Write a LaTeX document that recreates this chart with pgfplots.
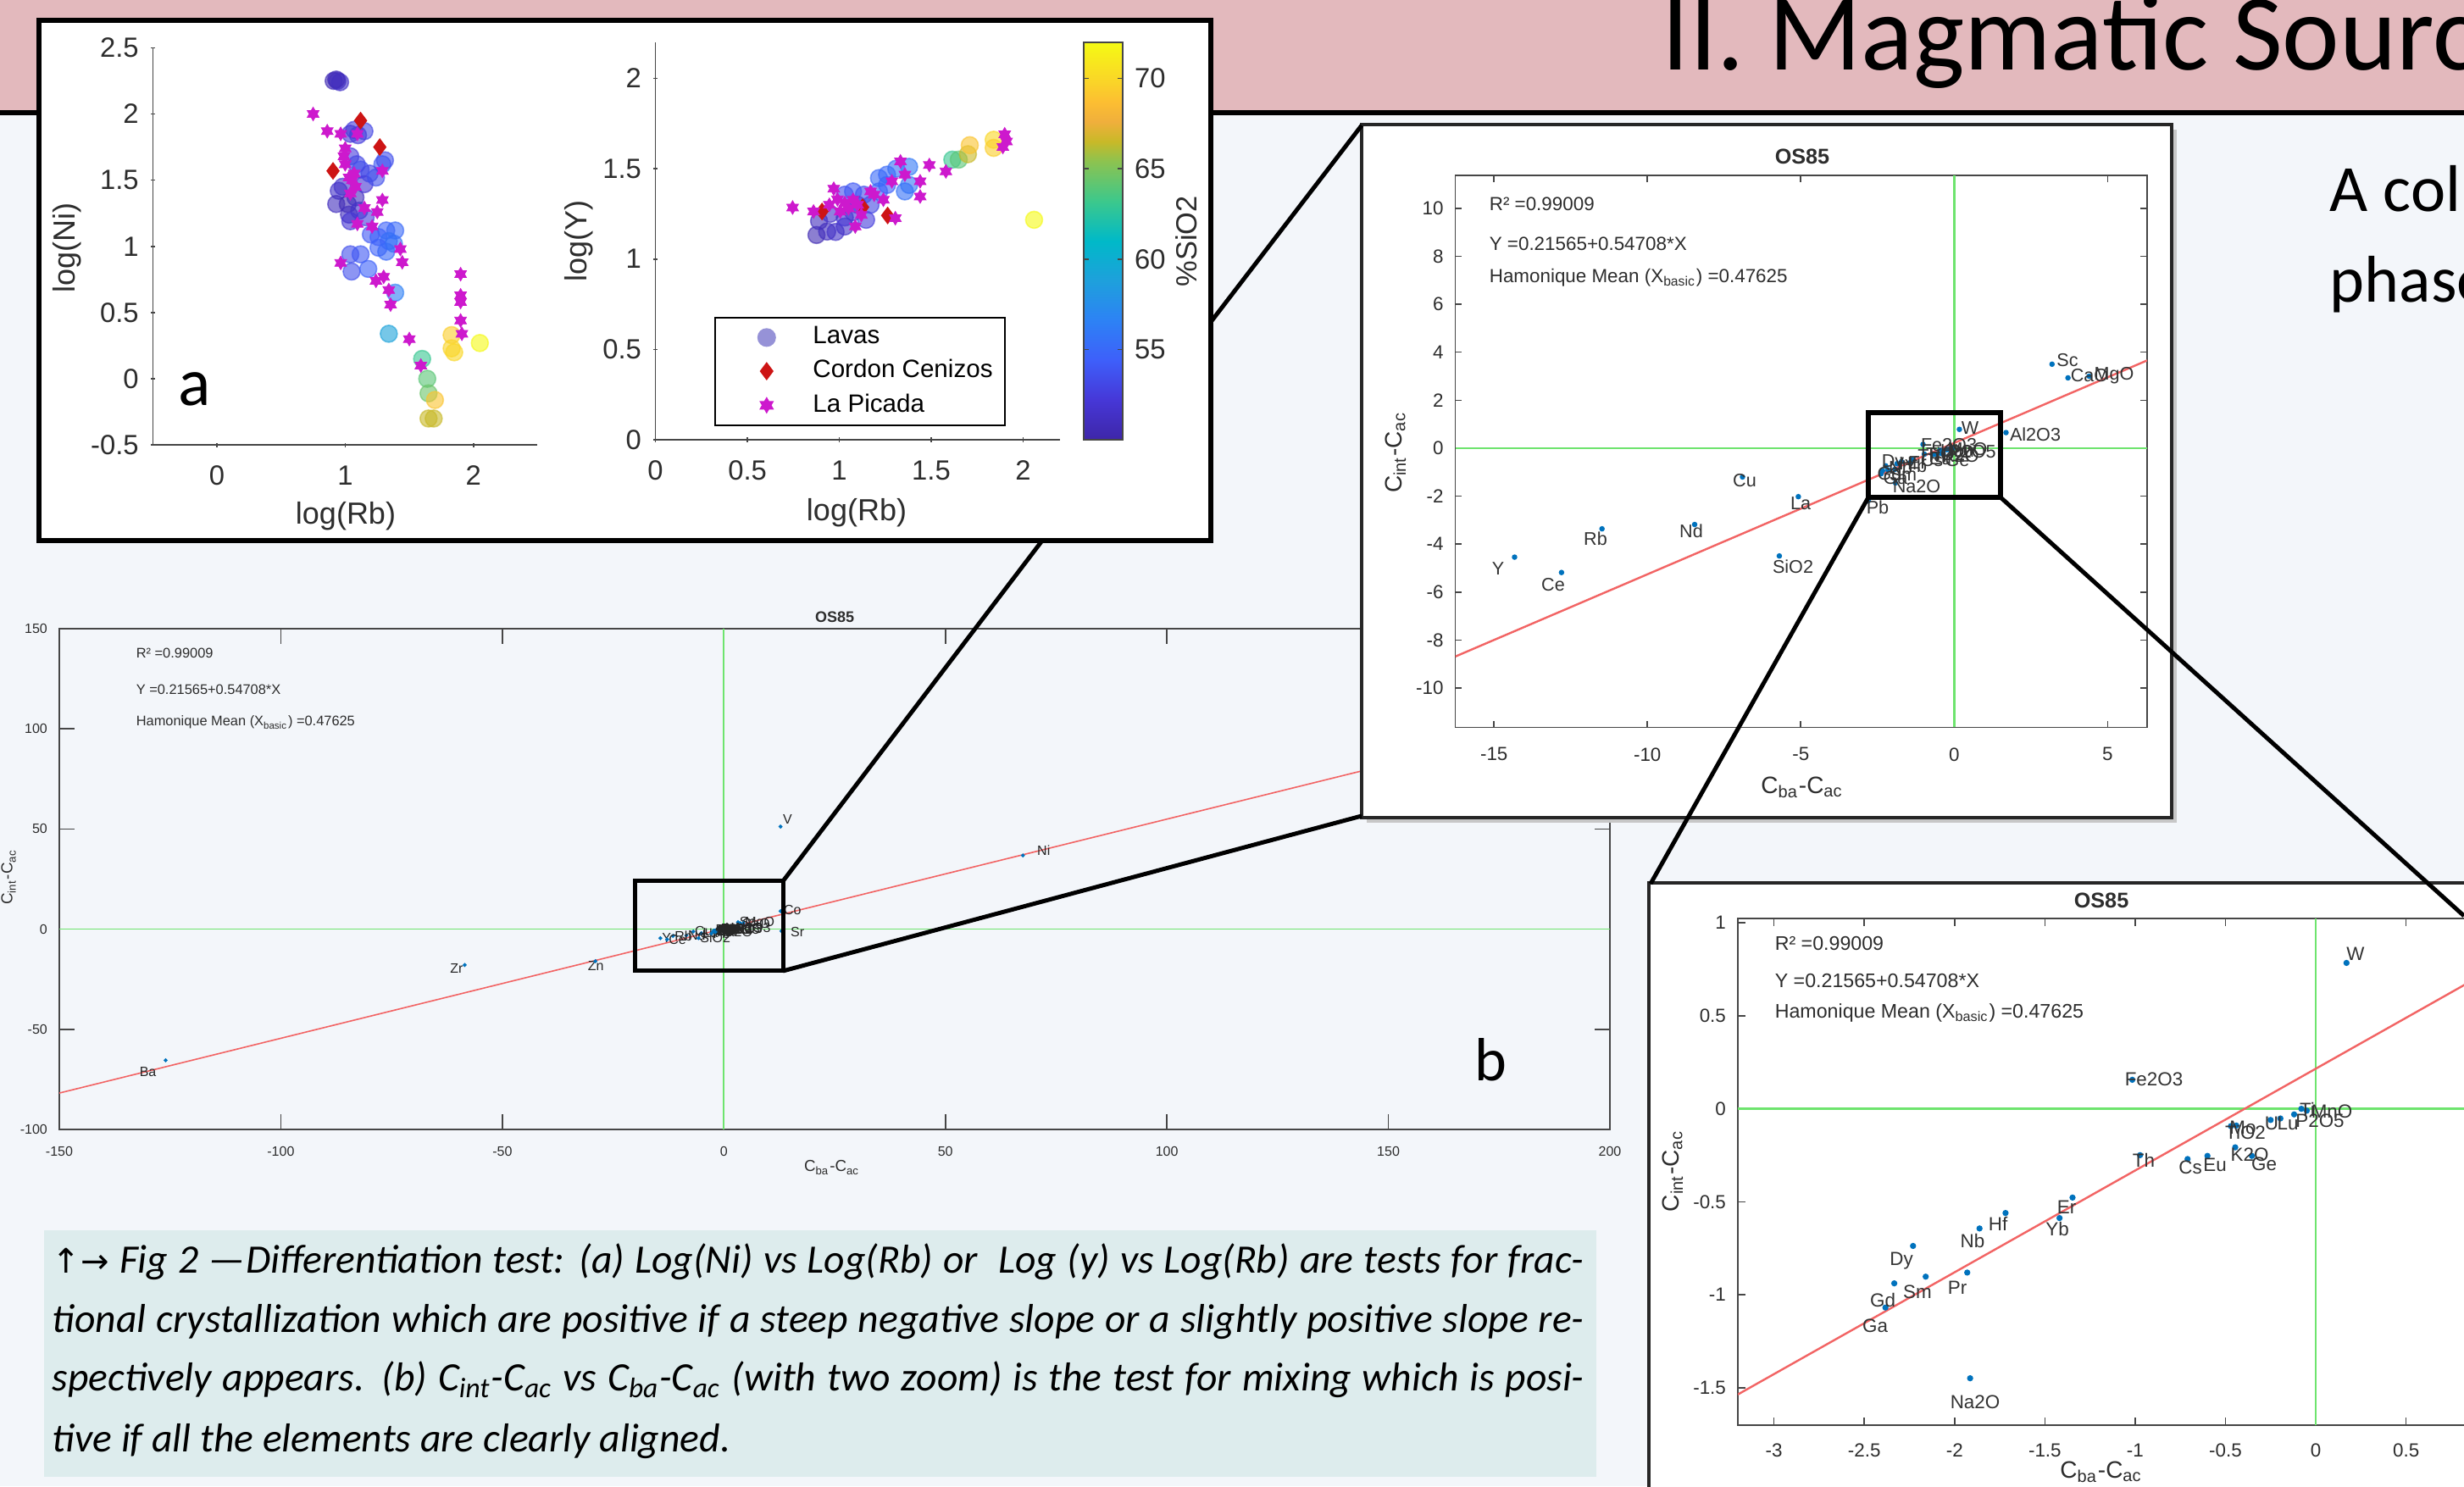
\documentclass[border=0pt]{standalone}
\usepackage{pgfplots}
\pgfplotsset{compat=1.18}
\usepackage{pgfplotstable}
\usepackage{fontspec}
\setmainfont{Carlito}
\newfontfamily\hv{Liberation Sans}
\newfontfamily\dv{DejaVu Sans}
\newcommand\fs[1]{\fontsize{#1}{#1}\selectfont}

\definecolor{pagebg}{RGB}{243,246,250}
\definecolor{hdr}{RGB}{227,185,189}
\definecolor{capbg}{RGB}{221,236,237}
\definecolor{mblue}{RGB}{0,114,189}
\definecolor{mgreen}{RGB}{110,228,110}
\definecolor{mred}{RGB}{242,100,100}
\definecolor{axgray}{RGB}{70,70,70}
\definecolor{txtgray}{RGB}{45,45,45}
\definecolor{lapic}{RGB}{205,25,205}
\definecolor{cordon}{RGB}{205,20,20}
\definecolor{lav}{RGB}{150,146,215}

\pgfdeclareplotmark{hexagram}{%
  \pgfpathmoveto{\pgfpointpolar{90}{\pgfplotmarksize}}%
  \pgfpathlineto{\pgfpointpolar{210}{\pgfplotmarksize}}%
  \pgfpathlineto{\pgfpointpolar{330}{\pgfplotmarksize}}%
  \pgfpathclose
  \pgfpathmoveto{\pgfpointpolar{270}{\pgfplotmarksize}}%
  \pgfpathlineto{\pgfpointpolar{30}{\pgfplotmarksize}}%
  \pgfpathlineto{\pgfpointpolar{150}{\pgfplotmarksize}}%
  \pgfpathclose
  \pgfusepathqfillstroke}

\pgfplotsset{
  /pgf/number format/assume math mode=true,
  colormap={parula}{rgb255(0cm)=(62,38,168) rgb255(1cm)=(70,55,215) rgb255(2cm)=(62,95,250) rgb255(3cm)=(45,130,245) rgb255(4cm)=(30,160,220) rgb255(5cm)=(0,185,200) rgb255(6cm)=(60,200,140) rgb255(7cm)=(140,195,80) rgb255(7.5cm)=(200,185,40) rgb255(8cm)=(240,175,60) rgb255(8.5cm)=(252,190,50) rgb255(9cm)=(250,212,40) rgb255(10cm)=(245,250,20)},
  mat/.style={scale only axis, anchor=south west,
    axis line style={draw=axgray, line width=0.4pt},
    tick style={draw=axgray, line width=0.4pt},
    tick align=inside, tick label style={text=txtgray},
    scaled ticks=false, /pgf/number format/fixed},
}
\tikzset{px/.style={x=0.25pt,y=-0.25pt,shift={(0pt,438.5pt)}},
  lb/.style={font=\hv\fs{#1}, text=txtgray, inner sep=0pt}}

% ---------- data ----------
\pgfplotstableread{
x y s
0.91 2.25 50.5
0.94 2.25 51
0.96 2.24 51.5
0.93 2.26 50.8
1.07 1.88 52.5
1.15 1.87 53
1.04 1.85 52
1.10 1.84 52.5
1.29 1.62 54
1.31 1.65 53.5
1.04 1.68 52.5
1.09 1.62 53
1.12 1.58 53.5
0.95 1.42 51.5
0.93 1.32 51
1.02 1.32 50.5
1.08 1.37 51
1.15 1.47 52
1.19 1.55 53
1.24 1.52 53.5
0.98 1.45 51.5
1.03 1.24 51
1.11 1.27 51.5
1.04 1.19 52
1.16 1.22 52.5
1.20 1.09 54
1.26 1.07 54.5
1.32 1.12 54.5
1.39 1.12 55
1.34 1.04 55.5
1.26 0.99 54.5
1.32 0.96 55
1.38 1.02 55.5
1.04 0.94 53.5
1.12 0.94 54
1.05 0.81 53.5
1.18 0.83 54.5
1.39 0.65 56.5
1.34 0.34 59
1.60 0.15 63
1.64 0.00 64
1.65 -0.11 64.5
1.70 -0.16 69
1.65 -0.30 66.5
1.69 -0.30 66.5
1.83 0.33 69.5
1.83 0.23 69.8
1.85 0.20 70
2.05 0.27 72
}\lavNi
\pgfplotstableread{
x y s
0.876 1.133 50.5
0.934 1.152 51
0.98 1.15 51.5
1.03 1.18 51.5
0.89 1.21 51
1.03 1.23 52
1.075 1.26 52
1.146 1.217 52.5
1.17 1.30 53
1.134 1.356 53.5
1.03 1.356 53.5
1.075 1.374 54
1.216 1.374 54.5
1.26 1.41 54.5
1.26 1.467 55
1.31 1.50 55.5
1.38 1.51 56
1.38 1.41 56
1.357 1.374 55.5
1.216 1.448 55
0.95 1.25 51.5
1.10 1.30 52.5
1.615 1.55 63
1.65 1.55 64
1.70 1.58 66.5
1.71 1.63 69
1.84 1.66 70
1.84 1.615 69.5
2.06 1.217 72
}\lavY
\pgfplotstableread{
x y
0.75 2.0
0.86 1.87
0.965 1.85
1.095 1.85
1.0 1.74
0.99 1.68
1.0 1.62
1.29 1.57
1.056 1.50
1.08 1.45
1.04 1.40
1.03 1.52
1.07 1.55
1.29 1.35
1.15 1.29
1.25 1.26
1.095 1.17
1.21 1.15
1.43 0.98
1.445 0.88
0.965 0.875
1.30 0.77
1.24 0.74
1.34 0.67
1.354 0.56
1.50 0.30
1.59 0.10
1.90 0.79
1.90 0.63
1.90 0.58
1.90 0.44
1.91 0.34
}\picNi
\pgfplotstableread{
x y
0.746 1.285
0.86 1.263
0.97 1.389
0.946 1.30
1.03 1.31
1.075 1.328
1.005 1.263
1.087 1.18
1.12 1.244
1.19 1.356
1.24 1.328
1.286 1.43
1.333 1.54
1.357 1.467
1.305 1.226
1.44 1.43
1.44 1.346
1.49 1.52
1.58 1.485
1.90 1.69
1.91 1.65
1.89 1.62
1.05 1.28
1.17 1.374
0.99 1.33
1.10 1.30
}\picY
\pgfplotstableread{
x y
1.12 1.95
1.27 1.75
0.905 1.57
}\corNi
\pgfplotstableread{
x y
0.906 1.263
1.127 1.287
1.263 1.241
}\corY
\pgfplotstableread{
x y lab
3.19 3.50 Sc
3.71 2.93 CaO
4.40 3.00 MgO
1.69 0.65 Al2O3
-6.9 -1.2 Cu
-5.08 -2.02 La
-8.46 -3.18 Nd
-11.48 -3.36 Rb
-14.33 -4.54 Y
-12.8 -5.18 Ce
-5.70 -4.49 SiO2
-2.8 -2.19 Pb
0.17 0.784 W
-1.016 0.156 Fe2O3
-0.05 -0.01 MnO
-0.08 0.0 Ti
-0.12 -0.03 P2O5
-0.25 -0.06 U
-0.196 -0.052 Lu
-0.47 -0.093 TiO2
-0.44 -0.09 Mo
-0.446 -0.207 K2O
-0.354 -0.253 Ge
-0.6 -0.253 Eu
-0.71 -0.27 Cs
-0.973 -0.249 Th
-1.347 -0.477 Er
-1.419 -0.587 Yb
-1.718 -0.56 Hf
-1.862 -0.643 Nb
-2.23 -0.737 Dy
-2.16 -0.902 Sm
-1.93 -0.88 Pr
-2.334 -0.938 Gd
-2.383 -1.068 Ga
-1.914 -1.448 Na2O
}\elemin
\pgfplotstableread{
x y lab
-126 -65.5 Ba
-58.5 -17.9 Zr
-29 -16 Zn
12.8 51.2 V
12.8 9.0 Co
13 -1 Sr
67.5 36.8 Ni
}\elemout

\begin{document}
\begin{tikzpicture}
\useasboundingbox (0pt,0pt) rectangle (727pt,438.5pt);
% ---------- background ----------
\begin{scope}[px]
\fill[pagebg] (0,0) rectangle (2908,1754);
\fill[hdr] (0,0) rectangle (2908,131);
\fill[black] (0,130) rectangle (2908,136);
\node[overlay, anchor=base west, inner sep=0pt, font=\fs{32}] at (1961,83) {II. Magmatic Source};
\node[overlay, anchor=base west, inner sep=0pt, font=\fs{19.5}] at (2749,250) {A collection of};
\node[overlay, anchor=base west, inner sep=0pt, font=\fs{19.5}] at (2749,357) {phases of};
\fill[capbg] (52,1452) rectangle (1884,1743);
\node[anchor=base west, inner sep=0pt, font=\itshape\fs{11.9}] at (61,1503) {\makebox[452pt][s]{{\dv\upshape\fs{10}↑→} Fig 2 —Differentiation test: (a) Log(Ni) vs Log(Rb) or\ \ Log (y) vs Log(Rb) are tests for frac-}};
\node[anchor=base west, inner sep=0pt, font=\itshape\fs{11.9}] at (61,1573) {\makebox[452pt][s]{tional crystallization which are positive if a steep negative slope or a slightly positive slope re-}};
\node[anchor=base west, inner sep=0pt, font=\itshape\fs{11.9}] at (61,1642) {\makebox[452pt][s]{spectively appears. (b) C\textsubscript{int}-C\textsubscript{ac} vs C\textsubscript{ba}-C\textsubscript{ac} (with two zoom) is the test for mixing which is posi-}};
\node[anchor=base west, inner sep=0pt, font=\itshape\fs{11.9}] at (61,1713) {tive if all the elements are clearly aligned.};
\end{scope}

% ---------- big plot b ----------
\begin{axis}[mat, at={(17.5pt,105.25pt)}, width=457.5pt, height=147.75pt,
  xmin=-150, xmax=200, ymin=-100, ymax=150,
  xtick={-150,-100,...,200}, ytick={-100,-50,...,150},
  tick label style={font=\hv\fs{4}}, major tick length=4.4pt,
  xticklabel style={yshift=-1.5pt}]
\addplot[mgreen, line width=0.45pt] coordinates {(-150,0) (200,0)};
\addplot[mgreen, line width=0.45pt] coordinates {(0,-100) (0,150)};
\addplot[mred, line width=0.4pt] coordinates {(-150,-81.846) (200,109.632)};
\addplot[only marks, mark=*, mark size=0.35pt, mblue, nodes near coords, point meta=explicit symbolic,
  every node near coord/.append style={font=\hv\fs{4}, text=black!85, anchor=west, inner sep=0.3pt}]
  table[x=x,y=y,meta=lab]{\elemin};
\addplot[only marks, mark=*, mark size=0.35pt, mblue] table[x=x,y=y]{\elemout};
\node[font=\hv\fs{4}, text=black!85, inner sep=0pt] at (axis cs:-130,-71.2) {Ba};
\node[font=\hv\fs{4}, text=black!85, inner sep=0pt] at (axis cs:-60.3,-19.7) {Zr};
\node[font=\hv\fs{4}, text=black!85, inner sep=0pt] at (axis cs:-28.9,-18.3) {Zn};
\node[font=\hv\fs{4}, text=black!85, inner sep=0pt] at (axis cs:14.4,54.9) {V};
\node[font=\hv\fs{4}, text=black!85, inner sep=0pt] at (axis cs:15.5,9.5) {Co};
\node[font=\hv\fs{4}, text=black!85, inner sep=0pt] at (axis cs:16.6,-1.3) {Sr};
\node[font=\hv\fs{4}, text=black!85, inner sep=0pt] at (axis cs:72.2,39.1) {Ni};
\end{axis}

% ---------- panel a frame ----------
\begin{scope}[px]
\draw[line width=1.5pt, fill=white] (46,24) rectangle (1429,638);
\end{scope}

% ---------- panel a left ----------
\begin{axis}[mat, at={(45.1pt,307.2pt)}, width=113.5pt, height=117.2pt,
  xmin=-0.5, xmax=2.5, ymin=-0.5, ymax=2.5, axis lines=left, axis line style={-},
  xtick={0,1,2}, ytick={-0.5,0,0.5,1,1.5,2,2.5},
  tick label style={font=\hv\fs{8.2}}, major tick length=1.3pt,
  xticklabel style={yshift=-2pt},
  colormap name=parula, point meta min=50, point meta max=72]
\addplot[scatter, only marks, mark=*, mark size=2.5pt, point meta=explicit,
  scatter/use mapped color={draw=mapped color, fill=mapped color},
  mark options={opacity=0.6}] table[x=x,y=y,meta=s]{\lavNi};
\addplot[only marks, mark=diamond*, mark size=2.3pt, color=cordon, fill=cordon] table[x=x,y=y]{\corNi};
\addplot[only marks, mark=hexagram, mark size=2pt, color=lapic, fill=lapic, line width=0.2pt] table[x=x,y=y]{\picNi};
\end{axis}

% ---------- panel a right ----------
\begin{axis}[mat, at={(193.4pt,308.75pt)}, width=119.3pt, height=117.3pt,
  xmin=0, xmax=2.2, ymin=0, ymax=2.2, axis lines=left, axis line style={-},
  xtick={0,0.5,...,2}, ytick={0,0.5,...,2},
  tick label style={font=\hv\fs{8.2}}, major tick length=1.3pt,
  xticklabel style={yshift=-2pt},
  colormap name=parula, point meta min=50, point meta max=72,
  colorbar,
  colorbar style={scale only axis, width=11.5pt, height=117.3pt,
    at={(parent axis.south east)}, anchor=south west, xshift=-1.5pt,
    axis lines=box, xtick=\empty, ytick={55,60,65,70},
    yticklabel pos=right, tick align=inside, major tick length=1.5pt,
    tick style={draw=axgray, line width=0.4pt},
    axis line style={draw=axgray, line width=0.4pt},
    yticklabel style={font=\hv\fs{8.2}, text=txtgray}},
  legend style={at={(0.145,0.034)}, anchor=south west, draw=black, line width=0.5pt,
    fill=white, font=\hv\fs{7.4}, inner xsep=1.5pt, inner ysep=0.5pt, row sep=-0.8pt,
    legend cell align=left},
  legend image code/.code={\path (-13.5pt,0pt) (11.4pt,0pt); \draw[#1] plot coordinates {(0pt,0pt)};}]
\addplot[scatter, only marks, mark=*, mark size=2.5pt, forget plot, point meta=explicit,
  scatter/use mapped color={draw=mapped color, fill=mapped color},
  mark options={opacity=0.6}] table[x=x,y=y,meta=s]{\lavY};
\addplot[only marks, mark=diamond*, mark size=2.3pt, color=cordon, fill=cordon, forget plot] table[x=x,y=y]{\corY};
\addplot[only marks, mark=hexagram, mark size=2pt, color=lapic, fill=lapic, line width=0.2pt, forget plot] table[x=x,y=y]{\picY};
\addlegendimage{only marks, mark=*, mark size=2.5pt, draw=lav, fill=lav}
\addlegendentry{Lavas}
\addlegendimage{only marks, mark=diamond*, mark size=2.3pt, color=cordon, fill=cordon}
\addlegendentry{Cordon Cenizos}
\addlegendimage{only marks, mark=hexagram, mark size=2pt, color=lapic, fill=lapic}
\addlegendentry{La Picada}
\end{axis}

% ---------- top-right frame ----------
\begin{scope}[px]
\fill[black!22] (1613,153) rectangle (2569,971);
\draw[fill=white, draw=black!85, line width=0.8pt] (1607,147) rectangle (2563,965);
\end{scope}

\begin{axis}[mat, at={(429.4pt,223.9pt)}, width=204.1pt, height=162.8pt,
  xmin=-16.26, xmax=6.29, ymin=-11.63, ymax=11.36,
  xtick={-15,-10,...,5}, ytick={-10,-8,...,10},
  tick label style={font=\hv\fs{5.6}}, major tick length=1.9pt,
  xticklabel style={yshift=-2.5pt}]
\addplot[mgreen, line width=0.6pt] coordinates {(-16.26,0) (6.29,0)};
\addplot[mgreen, line width=0.6pt] coordinates {(0,-11.63) (0,11.36)};
\addplot[mred, line width=0.6pt] coordinates {(-16.26,-8.680) (6.29,3.657)};
\addplot[only marks, mark=*, mark size=0.6pt, mblue] table[x=x,y=y]{\elemin};
\end{axis}

% ---------- bottom-right frame ----------
\begin{scope}[px]
\fill[black!22] (1952,1048) rectangle (2908,1754);
\draw[fill=white, draw=black!85, line width=0.8pt] (1946,1042) rectangle (2920,1770);
\end{scope}

\begin{axis}[mat, overlay, at={(512.75pt,18pt)}, width=223.8pt, height=149.45pt,
  xmin=-3.2, xmax=1, ymin=-1.70, ymax=1.022,
  xtick={-3,-2.5,...,1}, ytick={-1.5,-1,...,1},
  tick label style={font=\hv\fs{5.6}}, major tick length=2.2pt,
  xticklabel style={yshift=-2pt}]
\addplot[mgreen, line width=0.6pt] coordinates {(-3.2,0) (1,0)};
\addplot[mgreen, line width=0.6pt] coordinates {(0,-1.70) (0,1.022)};
\addplot[mred, line width=0.6pt] coordinates {(-3.2,-1.535) (1,0.7627)};
\addplot[only marks, mark=*, mark size=0.7pt, mblue] table[x=x,y=y]{\elemin};
\end{axis}

% ---------- overlays ----------
\begin{scope}[px, overlay]
% element labels top-right plot
\begin{scope}[every node/.style={font=\hv\fs{5.4}, text=black!80, inner sep=0pt}]
\node at (2440,425) {Sc};
\node at (2466,443) {CaO};
\node at (2495,443) {MgO};
\node at (2402,513) {Al2O3};
\node at (2325,505) {W};
\node at (2300,525) {Fe2O3};
\node at (2059,567) {Cu};
\node at (2125,594) {La};
\node at (2216,599) {Pb};
\node at (2262,574) {Na2O};
\node at (1883,636) {Rb};
\node at (1996,627) {Nd};
\node at (1768,671) {Y};
\node at (1833,690) {Ce};
\node at (2116,669) {SiO2};
\node at (2234,546) {Dy};
\node at (2230,559) {Gd};
\node at (2237,564) {Ga};
\node at (2246,560) {Sm};
\node at (2252,547) {Hf};
\node at (2243,552) {Nb};
\node at (2276,538) {Th};
\node at (2296,536) {TiO2};
\node at (2314,538) {K2O};
\node at (2328,533) {P2O5};
\node at (2310,543) {Ge};
\node at (2290,541) {Eu};
\node at (2280,543) {Cs};
\node at (2263,546) {Er};
\node at (2261,550) {Yb};
\node at (2322,530) {MnO};
\node at (2310,532) {ULu};
\end{scope}
% element labels bottom-right plot
\begin{scope}[every node/.style={font=\hv\fs{5.6}, text=black!80, inner sep=0pt}]
\node at (2780,1126) {W};
\node at (2542,1274) {Fe2O3};
\node at (2723,1309) {Ti};
\node at (2752,1312) {MnO};
\node at (2738,1323) {P2O5};
\node at (2681,1326) {U};
\node at (2700,1326) {Lu};
\node at (2647,1331) {Mo};
\node at (2650,1336) {TiO2};
\node at (2655,1363) {K2O};
\node at (2672,1374) {Ge};
\node at (2614,1375) {Eu};
\node at (2585,1378) {Cs};
\node at (2530,1369) {Th};
\node at (2439,1425) {Er};
\node at (2428,1450) {Yb};
\node at (2358,1444) {Hf};
\node at (2328,1464) {Nb};
\node at (2244,1488) {Dy};
\node at (2263,1525) {Sm};
\node at (2310,1520) {Pr};
\node at (2222,1534) {Gd};
\node at (2213,1565) {Ga};
\node at (2331,1655) {Na2O};
\end{scope}
% zoom boxes and connectors
\draw[line width=1.25pt] (749,1040) rectangle (924,1146);
\draw[line width=1.25pt] (924,1040) -- (1230,638);
\draw[line width=1.25pt] (924,1146) -- (1607,963);
\draw[line width=1.25pt] (1429,380) -- (1607,148);
\draw[line width=1.5pt] (2205,487) rectangle (2361,587);
\draw[line width=1.25pt] (2205,587) -- (1948,1043);
\draw[line width=1.25pt] (2361,587) -- (2908,1081);
% panel letters
\node[inner sep=0pt, font=\fs{20}] at (230,459) {a};
\node[inner sep=0pt, font=\fs{18}] at (1759,1251) {b};
% panel a labels
\node[lb=9] at (408,609) {log(Rb)};
\node[lb=9, rotate=90] at (79,293) {log(Ni)};
\node[lb=9] at (1011,605) {log(Rb)};
\node[lb=9, rotate=90] at (683,285) {log(Y)};
\node[lb=8.6, rotate=90] at (1400,285) {\%SiO2};
% big plot texts
\node[lb=4.5, font=\hv\bfseries\fs{4.5}] at (985,728) {OS85};
\node[lb=4.7] at (982,1378) {C\textsubscript{ba}-C\textsubscript{ac}};
\node[lb=4.7, rotate=90] at (10,1035) {C\textsubscript{int}-C\textsubscript{ac}};
\node[lb=4.1, anchor=west] at (160,771) {R² =0.99009};
\node[lb=4.1, anchor=west] at (160,814) {Y =0.21565+0.54708*X};
\node[lb=4.1, anchor=west] at (160,853) {Hamonique Mean (X\textsubscript{basic}) =0.47625};
% top-right texts
\node[lb=6.3, font=\hv\bfseries\fs{6.3}] at (2127,185) {OS85};
\node[lb=7] at (2127,929) {C\textsubscript{ba}-C\textsubscript{ac}};
\node[lb=7, rotate=90] at (1647,534) {C\textsubscript{int}-C\textsubscript{ac}};
\node[lb=5.6, anchor=west] at (1757,241) {R² =0.99009};
\node[lb=5.6, anchor=west] at (1757,288) {Y =0.21565+0.54708*X};
\node[lb=5.6, anchor=west] at (1757,328) {Hamonique Mean (X\textsubscript{basic}) =0.47625};
% bottom-right texts
\node[lb=6.3, font=\hv\bfseries\fs{6.3}] at (2480,1063) {OS85};
\node[lb=7] at (2480,1737) {C\textsubscript{ba}-C\textsubscript{ac}};
\node[lb=7, rotate=90] at (1974,1382) {C\textsubscript{int}-C\textsubscript{ac}};
\node[lb=5.8, anchor=west] at (2094,1114) {R² =0.99009};
\node[lb=5.8, anchor=west] at (2094,1158) {Y =0.21565+0.54708*X};
\node[lb=5.8, anchor=west] at (2094,1196) {Hamonique Mean (X\textsubscript{basic}) =0.47625};
\end{scope}
\end{tikzpicture}
\end{document}
